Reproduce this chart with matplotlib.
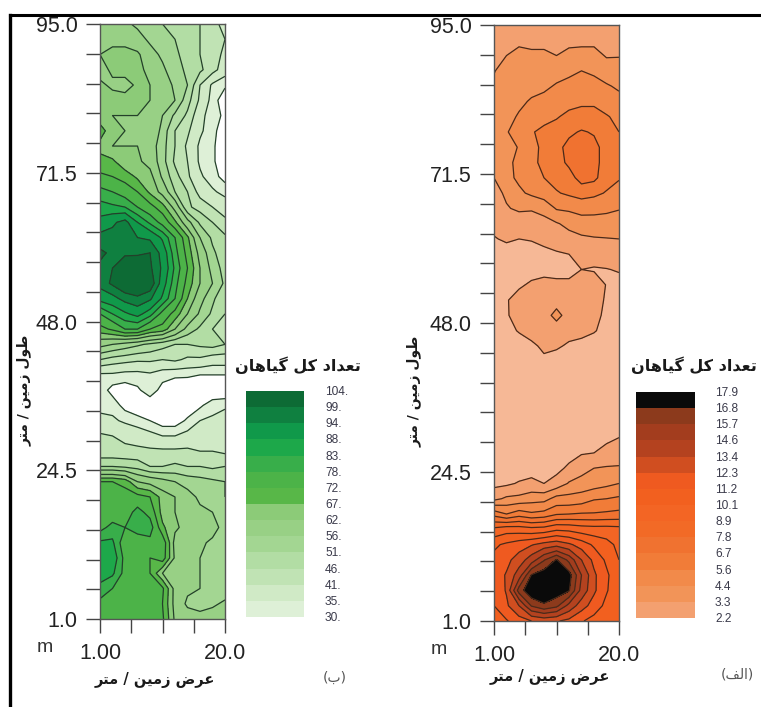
import numpy as np
import matplotlib
matplotlib.use("Agg")
import matplotlib.pyplot as plt
from matplotlib.colors import ListedColormap
from matplotlib.lines import Line2D

W, H = 761, 707

# top row is length 95 m, bottom row is length 1 m, columns go from width 1 to 20 m
green_counts = [
    [59, 58, 57, 55, 54, 51, 49, 48, 46, 42, 40],
    [60, 61, 60, 58, 55, 53, 51, 49, 46, 43, 41],
    [62, 63, 64, 63, 58, 55, 52, 49, 46, 43, 40],
    [60, 63, 64, 63, 61, 57, 53, 50, 47, 43, 38],
    [63, 61, 60, 63, 62, 59, 55, 51, 41, 34, 31],
    [64, 64, 64, 63, 62, 60, 56, 48, 40, 33, 26],
    [63, 62, 62, 62, 60, 56, 50, 45, 37, 32, 29],
    [70, 63, 62, 59, 62, 54, 46, 42, 36, 32, 26],
    [65, 62, 62, 62, 59, 53, 46, 40, 34, 31, 26],
    [69, 68, 63, 63, 60, 53, 45, 41, 34, 31, 26],
    [73, 72, 70, 66, 64, 55, 48, 42, 36, 32, 28],
    [80, 78, 75, 72, 66, 60, 51, 46, 39, 36, 33],
    [85, 84, 83, 78, 74, 69, 60, 47, 44, 41, 39],
    [90, 93, 96, 88, 82, 76, 68, 58, 50, 46, 42],
    [96, 96, 95, 94, 93, 87, 78, 68, 56, 50, 47],
    [100, 98, 98, 98, 99, 92, 80, 70, 60, 52, 48],
    [98, 99, 103, 104, 100, 93, 82, 72, 62, 54, 49],
    [96, 100, 104, 104, 103, 91, 80, 70, 62, 56, 50],
    [90, 92, 96, 98, 95, 87, 78, 67, 58, 52, 47],
    [78, 83, 87, 90, 85, 76, 70, 62, 55, 50, 46],
    [70, 73, 78, 78, 72, 70, 62, 54, 50, 46, 42],
    [58, 56, 54, 52, 50, 48, 46, 46, 47, 48, 46],
    [46, 44, 43, 42, 42, 41, 42, 40, 40, 38, 38],
    [34, 34, 33, 33, 34, 32, 31, 31, 30, 30, 30],
    [33, 28, 27, 29, 33, 28, 26, 25, 25, 25, 25],
    [34, 33, 28, 26, 26, 26, 26, 26, 29, 33, 34],
    [36, 36, 34, 32, 30, 27, 27, 31, 35, 36, 38],
    [42, 41, 40, 39, 37, 35, 35, 37, 40, 41, 41],
    [42, 42, 42, 42, 42, 42, 42, 42, 41, 41, 40],
    [51, 51, 50, 49, 46, 46, 47, 46, 46, 45, 46],
    [72, 72, 70, 62, 60, 58, 56, 54, 53, 52, 51],
    [74, 75, 75, 74, 72, 65, 62, 58, 55, 53, 51],
    [74, 74, 75, 80, 76, 65, 62, 60, 57, 56, 54],
    [76, 80, 78, 81, 81, 68, 63, 60, 59, 58, 54],
    [84, 84, 74, 74, 76, 76, 60, 59, 57, 55, 53],
    [88, 87, 76, 74, 72, 75, 61, 58, 56, 54, 52],
    [88, 84, 76, 76, 72, 62, 61, 59, 56, 54, 52],
    [80, 78, 74, 74, 73, 73, 60, 57, 56, 54, 53],
    [77, 78, 73, 74, 73, 72, 60, 55, 54, 55, 57],
    [76, 78, 75, 74, 74, 73, 61, 59, 58, 59, 60],
]
orange_counts = [
    [2.8, 2.8, 2.8, 2.8, 2.8, 2.8, 2.8, 2.8, 2.8, 2.8, 2.8],
    [2.9, 3.0, 3.0, 3.0, 3.0, 3.0, 3.0, 3.0, 3.0, 3.0, 3.0],
    [3.0, 3.3, 3.7, 3.5, 3.5, 3.3, 3.6, 3.7, 3.7, 3.2, 3.25],
    [3.25, 3.7, 3.9, 3.9, 3.9, 4.0, 4.1, 4.4, 4.2, 3.9, 3.7],
    [3.5, 3.7, 3.9, 4.1, 4.2, 4.5, 4.8, 4.9, 4.8, 4.5, 4.25],
    [3.6, 3.8, 4.2, 4.5, 4.7, 5.0, 5.2, 5.4, 5.4, 5.0, 4.7],
    [3.7, 4.1, 4.5, 4.9, 5.2, 5.5, 5.9, 6.0, 6.0, 5.7, 5.3],
    [3.7, 4.35, 4.7, 5.5, 5.9, 6.1, 6.5, 6.8, 6.6, 6.2, 5.6],
    [3.7, 4.1, 4.45, 5.2, 5.9, 6.4, 7.0, 7.3, 7.0, 6.3, 5.8],
    [3.8, 4.2, 4.6, 5.3, 5.9, 6.3, 6.9, 7.3, 7.0, 6.3, 5.9],
    [3.3, 4.1, 4.6, 5.0, 5.6, 6.0, 6.3, 7.1, 6.95, 6.1, 5.7],
    [2.9, 3.5, 4.2, 4.6, 5.0, 5.5, 5.8, 6.1, 5.9, 5.5, 5.1],
    [2.6, 3.2, 3.5, 3.4, 3.6, 4.5, 4.6, 4.8, 4.7, 4.6, 4.45],
    [2.4, 2.5, 2.6, 2.8, 3.0, 3.2, 3.6, 3.9, 4.0, 4.0, 4.0],
    [2.15, 2.3, 2.2, 2.25, 2.4, 2.6, 2.9, 3.1, 3.2, 3.25, 3.3],
    [1.8, 1.9, 1.9, 1.9, 2.0, 2.1, 2.2, 2.5, 2.7, 2.9, 3.0],
    [1.6, 1.6, 1.7, 1.7, 1.8, 1.9, 1.9, 2.2, 2.1, 2.15, 2.3],
    [1.5, 1.7, 2.0, 2.4, 2.6, 2.4, 2.4, 2.9, 2.8, 2.15, 1.8],
    [1.5, 2.1, 2.7, 2.8, 2.9, 2.9, 3.0, 3.0, 2.7, 2.05, 1.7],
    [1.5, 2.1, 2.6, 2.8, 2.9, 3.6, 2.9, 2.9, 2.6, 1.9, 1.6],
    [1.5, 1.8, 2.3, 2.6, 2.7, 2.8, 2.7, 2.6, 2.3, 1.8, 1.5],
    [1.5, 1.5, 1.6, 2.0, 2.4, 2.4, 2.0, 1.8, 1.6, 1.5, 1.5],
    [1.5, 1.5, 1.5, 1.5, 2.0, 1.6, 1.5, 1.5, 1.5, 1.5, 1.5],
    [1.5, 1.5, 1.5, 1.5, 1.5, 1.5, 1.5, 1.5, 1.5, 1.5, 1.5],
    [1.5, 1.5, 1.5, 1.5, 1.5, 1.5, 1.5, 1.5, 1.5, 1.5, 1.5],
    [1.5, 1.5, 1.5, 1.5, 1.5, 1.5, 1.5, 1.5, 1.5, 1.5, 1.5],
    [1.5, 1.5, 1.5, 1.5, 1.5, 1.5, 1.5, 1.5, 1.5, 1.5, 1.6],
    [1.5, 1.5, 1.5, 1.5, 1.5, 1.5, 1.5, 1.5, 1.5, 2.0, 2.2],
    [1.5, 1.5, 1.5, 1.5, 1.5, 1.6, 1.8, 2.1, 2.2, 2.5, 2.8],
    [1.6, 1.6, 1.6, 1.7, 1.8, 1.9, 2.4, 3.0, 3.3, 3.4, 3.4],
    [1.9, 2.0, 2.3, 2.5, 2.2, 2.6, 3.4, 3.6, 3.8, 4.1, 4.4],
    [3.0, 3.5, 3.6, 3.9, 4.0, 4.8, 4.8, 5.0, 5.5, 5.6, 5.8],
    [6.3, 5.6, 6.2, 5.8, 6.0, 6.6, 6.7, 6.8, 6.8, 6.9, 7.0],
    [9.2, 9.6, 9.5, 9.3, 9.4, 9.9, 9.8, 9.5, 9.4, 9.4, 9.3],
    [11.0, 11.4, 11.8, 12.2, 12.7, 13.0, 12.5, 11.8, 11.0, 10.5, 9.8],
    [11.5, 12.0, 12.8, 14.0, 15.6, 16.9, 15.4, 13.4, 12.0, 11.0, 10.1],
    [11.7, 12.4, 14.0, 16.9, 17.5, 17.7, 17.3, 14.6, 12.5, 11.4, 10.4],
    [11.5, 12.4, 16.2, 17.8, 17.9, 17.5, 16.9, 14.2, 12.5, 11.3, 10.4],
    [11.2, 12.1, 13.4, 15.8, 16.6, 16.0, 14.2, 12.8, 11.8, 10.9, 10.3],
    [10.7, 11.1, 11.8, 12.3, 12.6, 12.4, 12.0, 11.3, 10.8, 10.4, 10.2],
]

green_levels = [30, 35, 41, 46, 51, 56, 62, 67, 72, 78, 83, 88, 94, 99, 104]
orange_levels = [2.2, 3.3, 4.4, 5.6, 6.7, 7.8, 8.9, 10.1, 11.2, 12.3, 13.4, 14.6, 15.7, 16.8, 17.9]
green_labels = ["30.", "35.", "41.", "46.", "51.", "56.", "62.", "67.", "72.", "78.", "83.", "88.", "94.", "99.", "104."]
orange_labels = [f"{v}" for v in orange_levels]

# first colour of each list is what lies under the lowest level
green_colors = ["#ffffff", "#def0d7", "#d0eac6", "#c0e3b4", "#b2dda4", "#a3d692", "#98d085", "#8ccb78",
                "#58b748", "#4cb348", "#38ae4a", "#1da84a", "#10994a", "#0f8040", "#0d6b35"]
orange_colors = ["#f6b896", "#f3a070", "#f29458", "#f28a4a", "#f17c38", "#f07230", "#f26a26", "#f36524",
                 "#f2601f", "#ef5a20", "#d04e20", "#b4421f", "#a33d1e", "#8c3a1c", "#0a0a0a"]

y_ticks = [95.0, 90.3, 85.6, 80.9, 76.2, 71.5, 66.8, 62.1, 57.4, 52.7, 48.0,
           43.3, 38.6, 33.9, 29.2, 24.5, 19.8, 15.1, 10.4, 5.7, 1.0]
y_labels = {95.0: "95.0", 71.5: "71.5", 48.0: "48.0", 24.5: "24.5", 1.0: "1.0"}
x_ticks = [1.0, 5.75, 10.5, 15.25, 20.0]
x_labels = ["1.00", "", "", "", "20.0"]

title_text = "تعداد کل گیاهان"
x_title = "عرض زمین / متر"
y_title = "طول زمین / متر"

# matplotlib does not shape arabic script, so pick the joined glyphs by hand
FORMS = {
    "ا": (0xFE8D, 0xFE8E), "د": (0xFEA9, 0xFEAA), "ر": (0xFEAD, 0xFEAE),
    "ز": (0xFEAF, 0xFEB0), "و": (0xFEED, 0xFEEE),
    "ب": (0xFE8F, 0xFE90, 0xFE91, 0xFE92), "ت": (0xFE95, 0xFE96, 0xFE97, 0xFE98),
    "ض": (0xFEBD, 0xFEBE, 0xFEBF, 0xFEC0), "ط": (0xFEC1, 0xFEC2, 0xFEC3, 0xFEC4),
    "ع": (0xFEC9, 0xFECA, 0xFECB, 0xFECC), "ف": (0xFED1, 0xFED2, 0xFED3, 0xFED4),
    "ک": (0xFB8E, 0xFB8F, 0xFB90, 0xFB91), "گ": (0xFB92, 0xFB93, 0xFB94, 0xFB95),
    "ل": (0xFEDD, 0xFEDE, 0xFEDF, 0xFEE0), "م": (0xFEE1, 0xFEE2, 0xFEE3, 0xFEE4),
    "ن": (0xFEE5, 0xFEE6, 0xFEE7, 0xFEE8), "ه": (0xFEE9, 0xFEEA, 0xFEEB, 0xFEEC),
    "ی": (0xFBFC, 0xFBFD, 0xFBFE, 0xFBFF),
}


def shape(text):
    out = []
    for i, ch in enumerate(text):
        if ch not in FORMS:
            out.append(ch)
            continue
        prev = text[i - 1] if i > 0 else " "
        nxt = text[i + 1] if i < len(text) - 1 else " "
        joins_prev = prev in FORMS and len(FORMS[prev]) == 4
        joins_next = nxt in FORMS and len(FORMS[ch]) == 4
        if joins_prev and joins_next:
            code = FORMS[ch][3]
        elif joins_next:
            code = FORMS[ch][2]
        elif joins_prev:
            code = FORMS[ch][1]
        else:
            code = FORMS[ch][0]
        out.append(chr(code))
    return "".join(reversed(out))


def px_axes(fig, left, top, right, bottom):
    return fig.add_axes([left / W, 1 - bottom / H, (right - left) / W, (bottom - top) / H])


def draw_map(fig, counts, levels, colors, line_color, box):
    ax = px_axes(fig, *box)
    z = np.array(counts)
    x = np.linspace(1, 20, z.shape[1])
    y = np.linspace(95, 1, z.shape[0])
    ax.contourf(x, y, z, levels=levels, colors=colors, extend="min")
    ax.contour(x, y, z, levels=levels[:-1], colors=line_color, linewidths=0.9)
    ax.set_xlim(1, 20)
    ax.set_ylim(1, 95)
    ax.set_xticks(x_ticks)
    ax.set_xticklabels(x_labels, fontsize=15.5, color="#222222")
    ax.set_yticks(y_ticks)
    ax.set_yticklabels([y_labels.get(t, "") for t in y_ticks], fontsize=15.5, color="#222222")
    ax.tick_params(axis="x", length=10, width=1.0, color="#444444", pad=7)
    ax.tick_params(axis="y", length=10, width=1.0, color="#444444", pad=6)
    for s in ax.spines.values():
        s.set_color("#555555")
        s.set_linewidth(1.0)
    return ax


def draw_key(fig, labels, colors, box, label_x):
    ax = px_axes(fig, *box)
    n = len(labels) - 1
    cmap = ListedColormap(colors[1:])
    ax.pcolormesh([0, 1], np.arange(n + 1), np.arange(n).reshape(-1, 1), cmap=cmap)
    ax.axis("off")
    top, bottom = box[1], box[3]
    for i, lab in enumerate(labels):
        py = bottom + 1 - i * (bottom - top) / n
        fig.text(label_x / W, 1 - py / H, lab, fontsize=8.6, color="#3a3a4a", ha="left", va="center")


def ptext(fig, px, py, s, **kw):
    fig.text(px / W, 1 - py / H, s, ha="center", va="center", **kw)


plt.rcParams["font.family"] = ["Liberation Sans", "DejaVu Sans"]
fig = plt.figure(figsize=(W / 100, H / 100), dpi=100)

draw_map(fig, green_counts, green_levels, green_colors, "#24402a", (100, 24, 225, 619))
draw_map(fig, orange_counts, orange_levels, orange_colors, "#4a2a1a", (494, 25, 619, 621))
draw_key(fig, green_labels, green_colors, (246, 391, 304, 617), 325)
draw_key(fig, orange_labels, orange_colors, (636, 392, 695, 618), 715)

ar = dict(family="DejaVu Sans", fontweight="bold", color="#1a1a1a")
ptext(fig, 298, 365, shape(title_text), fontsize=11.5, **ar)
ptext(fig, 694, 365, shape(title_text), fontsize=11.5, **ar)
ptext(fig, 155, 680, shape(x_title), fontsize=10.5, **ar)
ptext(fig, 550, 677, shape(x_title), fontsize=10.5, **ar)
ptext(fig, 24, 390, shape(y_title), fontsize=10, rotation=90, **ar)
ptext(fig, 414, 391, shape(y_title), fontsize=10, rotation=90, **ar)
ptext(fig, 335, 678, "(" + shape("ب") + ")", fontsize=10, family="DejaVu Sans", color="#555555")
ptext(fig, 737, 675, "(" + shape("الف") + ")", fontsize=10, family="DejaVu Sans", color="#555555")
ptext(fig, 45, 648, "m", fontsize=14, color="#333333")
ptext(fig, 439, 649, "m", fontsize=14, color="#333333")

# scan border: heavy line along the top and left edge
fig.add_artist(Line2D([9.5 / W, 1], [1 - 14.5 / H, 1 - 14.5 / H], color="black", lw=2.2))
fig.add_artist(Line2D([9.5 / W, 9.5 / W], [1 - 14.5 / H, 0], color="black", lw=2.4))

fig.savefig("out.png", dpi=100)
